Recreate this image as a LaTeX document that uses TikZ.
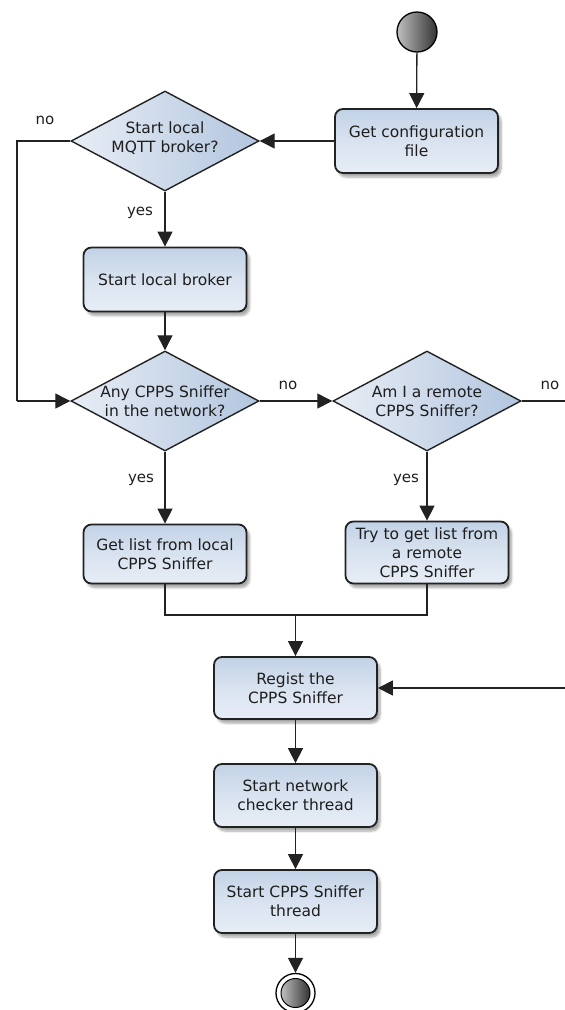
\documentclass[tikz,border=0pt]{standalone}
\usepackage{fontspec}
\setmainfont{DejaVu Sans}
\usetikzlibrary{arrows.meta,shapes.geometric,shadows.blur}
\definecolor{boxtop}{HTML}{C2D2E6}
\definecolor{boxmid}{HTML}{D9E3F0}
\definecolor{boxbot}{HTML}{E7EDF6}
\definecolor{dial}{HTML}{E8EDF5}
\definecolor{diar}{HTML}{B2C6DF}
\definecolor{edge}{HTML}{222222}
\definecolor{txt}{HTML}{1E1E1E}
\begin{document}
\begin{tikzpicture}[x=1pt,y=-1pt,
  font=\fontsize{15.5}{19}\selectfont, text=txt,
  action/.style={rectangle, rounded corners=8pt, draw=edge, line width=1.8pt,
    top color=boxtop, bottom color=boxbot, middle color=boxmid,
    minimum width=163pt, align=center, inner sep=2pt,
    blur shadow={shadow xshift=3pt, shadow yshift=-4pt, shadow opacity=35, shadow blur steps=6}},
  decision/.style={diamond, draw=edge, line width=1.4pt, left color=dial, right color=diar,
    minimum width=188pt, minimum height=100pt, inner sep=0pt},
  flow/.style={draw=edge, line width=1.3pt},
  arr/.style={flow, -{Triangle[length=15pt,width=15pt]}},
  lbl/.style={font=\fontsize{15}{18}\selectfont}
]
\useasboundingbox (0,0) rectangle (565,1010);

% start marker
\node[circle, draw=black, line width=1.3pt, left color=gray!50, right color=black!80,
  minimum size=40pt, inner sep=0pt] (start) at (417,32) {};

% actions
\node[action, minimum height=64pt] (cfg) at (416.5,141) {Get configuration\\file};
\node[action, minimum height=64pt] (broker) at (165,279.5) {Start local broker};
\node[action, minimum height=59pt] (local) at (165,554) {Get list from local\\CPPS Sniffer};
\node[action, minimum height=62pt] (remote) at (427,552.5) {Try to get list from\\a remote\\CPPS Sniffer};
\node[action, minimum height=62pt] (regist) at (295.5,688) {Regist the\\CPPS Sniffer};
\node[action, minimum height=63pt] (checker) at (295.5,795.5) {Start network\\checker thread};
\node[action, minimum height=63pt] (thread) at (295.5,901.5) {Start CPPS Sniffer\\thread};

% decisions
\node[decision, label={[align=center, yshift=3pt]center:Start local\\MQTT broker?}] (q1) at (165,141) {};
\node[decision, label={[align=center]center:Any CPPS Sniffer\\in the network?}] (q2) at (165,401) {};
\node[decision, label={[align=center]center:Am I a remote\\CPPS Sniffer?}] (q3) at (427,401) {};

% final node
\node[circle, draw=black, line width=1.3pt, fill=white, minimum size=39pt, inner sep=0pt] (stop) at (295.5,993) {};
\node[circle, draw=black, line width=1pt, left color=gray!50, right color=black!80,
  minimum size=29pt, inner sep=0pt] (stopin) at (stop.center) {};

% free ends and junctions
\coordinate (loopa) at (17,141);
\coordinate (loopb) at (17,401);
\coordinate (rightout) at (565,401);
\coordinate (rightin) at (565,688);
\coordinate (join) at (295.5,615);

% connectors
\draw[arr] (start) -- (cfg);
\draw[arr] (cfg.west) -- (q1.east);
\draw[flow] (q1.west) -- (loopa) -- (loopb);
\draw[arr] (loopb) -- (q2.west);
\draw[arr] (q1.south) -- (broker.north);
\draw[arr] (broker.south) -- (q2.north);
\draw[arr] (q2.east) -- (q3.west);
\draw[flow] (q3.east) -- (rightout);
\draw[arr] (q2.south) -- (local.north);
\draw[arr] (q3.south) -- (remote.north);
\draw[flow] (local.south) |- (join) -| (remote.south);
\draw[arr] (join) -- (regist.north);
\draw[arr] (rightin) -- (regist.east);
\draw[arr] (regist) -- (checker);
\draw[arr] (checker) -- (thread);
\draw[arr] (thread) -- (stop);

% branch labels
\node[lbl] (l1) at (45,120) {no};
\node[lbl] (l2) at (140,213) {yes};
\node[lbl] (l3) at (288,385) {no};
\node[lbl] (l4) at (550,385) {no};
\node[lbl] (l5) at (141,480) {yes};
\node[lbl] (l6) at (406,480) {yes};
\end{tikzpicture}
\end{document}
